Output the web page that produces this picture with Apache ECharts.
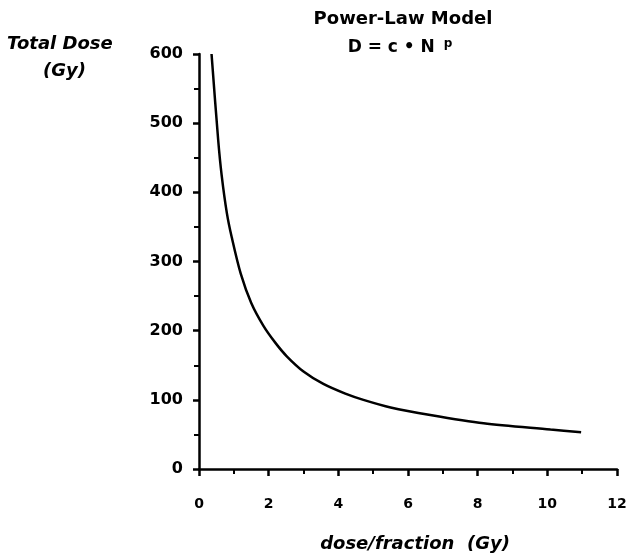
<!DOCTYPE html>
<html>
<head>
<meta charset="utf-8">
<script src="https://cdn.jsdelivr.net/npm/echarts@6/dist/echarts.min.js"></script>
<style>html,body{margin:0;padding:0;background:#fff}#c{width:628px;height:555px}</style>
</head>
<body>
<div id="c"></div>
<script>
var dosePerFraction = [0.36, 0.55, 0.65, 0.8, 0.94, 1.2, 1.5, 1.85, 2.2, 2.52, 3.0, 3.57, 4.2, 4.72, 5.5, 6.64, 8.17, 10.09, 10.97];
var totalDose = [600, 476, 425, 370, 335, 282, 240, 207, 182, 163, 141, 123, 109, 100, 89, 78, 66, 57, 53];
var xTicks = [0, 2, 4, 6, 8, 10, 12];
var yTicks = [0, 100, 200, 300, 400, 500, 600];

var chart = echarts.init(document.getElementById('c'));
var font = 'DejaVu Sans, sans-serif';
chart.setOption({
  animation: false,
  backgroundColor: '#fff',
  title: [{
    text: 'Power-Law Model',
    left: 398, top: 5, textAlign: 'center',
    textStyle: {fontFamily: font, fontWeight: 'bold', fontSize: 18, color: '#000'}
  }, {
    text: '{a|D = c • N }{b|p}',
    left: 395, top: 33, textAlign: 'center',
    textStyle: {rich: {
      a: {fontFamily: font, fontWeight: 'bold', fontSize: 17, color: '#000'},
      b: {fontFamily: font, fontWeight: 'bold', fontSize: 12, color: '#000', verticalAlign: 'top', padding: [0,0,8,3]}
    }}
  }],
  graphic: [{
    type: 'text', left: 7, top: 35,
    style: {text: 'Total Dose', font: 'italic bold 18px DejaVu Sans', fill: '#000'}
  }, {
    type: 'text', left: 43, top: 62,
    style: {text: '(Gy)', font: 'italic bold 18px DejaVu Sans', fill: '#000'}
  }],
  grid: {left: 199, right: 11, top: 54, bottom: 86, containLabel: false, outerBoundsMode: 'none'},
  xAxis: {
    type: 'value', min: 0, max: 12, interval: 2,
    name: 'dose/fraction  (Gy)', nameLocation: 'middle', nameGap: 66,
    nameTextStyle: {fontFamily: font, fontWeight: 'bold', fontStyle: 'italic', fontSize: 18, color: '#000', padding: [0,0,0,14]},
    axisLine: {show: true, lineStyle: {color: '#000', width: 2.5}},
    axisTick: {show: true, length: 7, lineStyle: {color: '#000', width: 2.5}},
    minorTick: {show: true, splitNumber: 2, length: 5, lineStyle: {color: '#000', width: 2}},
    axisLabel: {margin: 28, fontFamily: font, fontWeight: 'bold', fontSize: 14, color: '#000',
      formatter: function (v) { return xTicks.indexOf(v) >= 0 ? String(v) : ''; }},
    splitLine: {show: false}
  },
  yAxis: {
    type: 'value', min: 0, max: 600, interval: 100,
    axisLine: {show: true, lineStyle: {color: '#000', width: 2.5}},
    axisTick: {show: true, length: 6, lineStyle: {color: '#000', width: 2.5}},
    minorTick: {show: true, splitNumber: 2, length: 5, lineStyle: {color: '#000', width: 2}},
    axisLabel: {margin: 16, fontFamily: font, fontWeight: 'bold', fontSize: 16, color: '#000',
      formatter: function (v) { return yTicks.indexOf(v) >= 0 ? String(v) : ''; }},
    splitLine: {show: false}
  },
  series: [{
    type: 'line',
    data: dosePerFraction.map(function (d, i) { return [d, totalDose[i]]; }),
    smooth: 0.3,
    showSymbol: false,
    lineStyle: {color: '#000', width: 2.5}
  }]
});
</script>
</body>
</html>
